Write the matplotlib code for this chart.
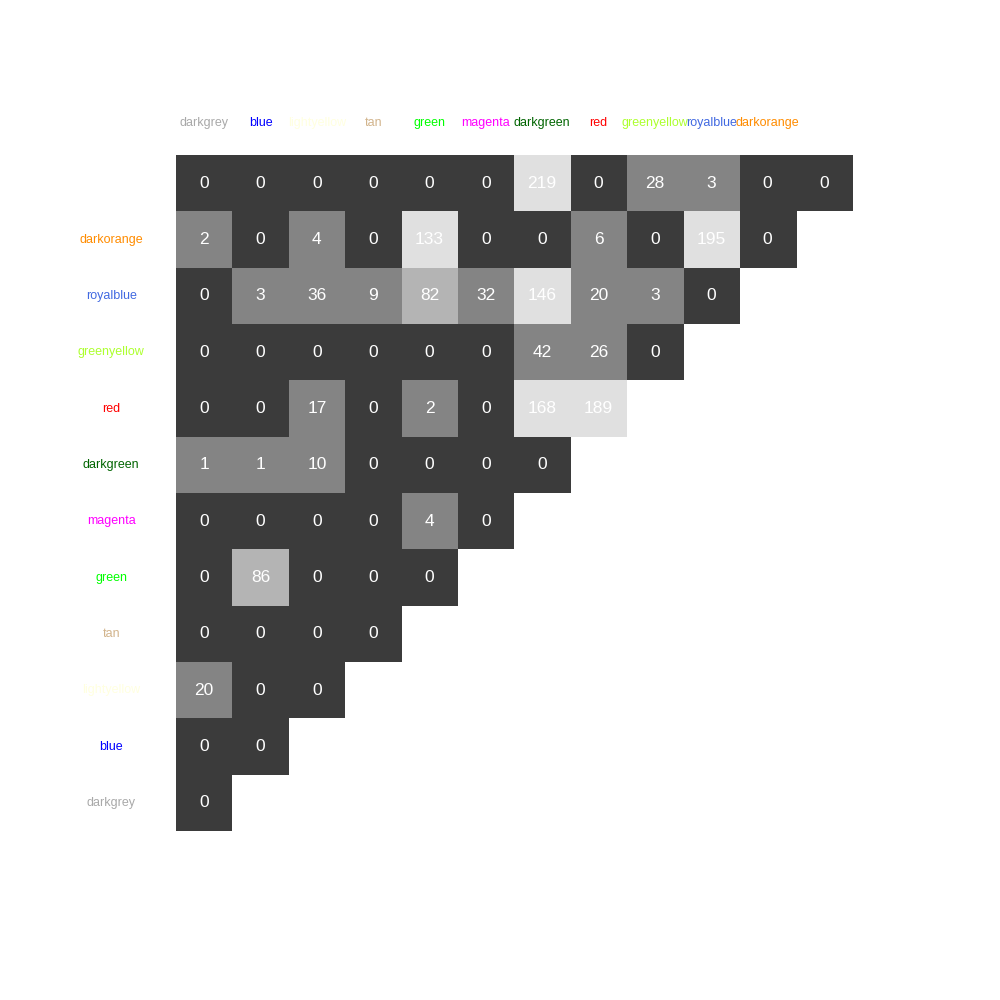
import numpy as np
import matplotlib
matplotlib.use("Agg")
from matplotlib import pyplot as plt
from matplotlib.colors import ListedColormap, BoundaryNorm

plt.rcParams['font.family'] = ['Liberation Sans', 'DejaVu Sans']

# module names (columns left->right, rows bottom->top)
col_labels = ['darkgrey', 'blue', 'lightyellow', 'tan', 'green', 'magenta',
              'darkgreen', 'red', 'greenyellow', 'royalblue', 'darkorange']
row_labels = ['', 'darkorange', 'royalblue', 'greenyellow', 'red', 'darkgreen',
              'magenta', 'green', 'tan', 'lightyellow', 'blue', 'darkgrey']
label_colors = {'darkgrey': '#a9a9a9', 'blue': '#0000ff', 'lightyellow': '#ffffe0',
                'tan': '#d2b48c', 'green': '#00ff00', 'magenta': '#ff00ff',
                'darkgreen': '#006400', 'red': '#ff0000', 'greenyellow': '#adff2f',
                'royalblue': '#4169e1', 'darkorange': '#ff8c00'}

# overlap counts, one row per line from the top
counts = [
    [0, 0, 0, 0, 0, 0, 219, 0, 28, 3, 0, 0],
    [2, 0, 4, 0, 133, 0, 0, 6, 0, 195, 0],
    [0, 3, 36, 9, 82, 32, 146, 20, 3, 0],
    [0, 0, 0, 0, 0, 0, 42, 26, 0],
    [0, 0, 17, 0, 2, 0, 168, 189],
    [1, 1, 10, 0, 0, 0, 0],
    [0, 0, 0, 0, 4, 0],
    [0, 86, 0, 0, 0],
    [0, 0, 0, 0],
    [20, 0, 0],
    [0, 0],
    [0],
]

n = len(counts)
mat = np.full((n, n), np.nan)
for i, row in enumerate(counts):
    mat[i, :len(row)] = row

cmap = ListedColormap(['#3b3b3b', '#848484', '#b4b4b4', '#e0e0e0'])
cmap.set_bad('white')
norm = BoundaryNorm([-0.5, 0.5, 50, 100, 1000], cmap.N)

fig = plt.figure(figsize=(10, 10), dpi=100)
ax = fig.add_axes([0.176, 1 - 0.831, 0.676, 0.676])
ax.imshow(np.ma.masked_invalid(mat), cmap=cmap, norm=norm, aspect='auto',
          interpolation='nearest')
ax.set_xlim(-0.5, n - 0.5)
ax.set_ylim(n - 0.5, -0.5)
ax.axis('off')

for i, row in enumerate(counts):
    for j, v in enumerate(row):
        ax.text(j, i, str(v), ha='center', va='center', color='white', fontsize=12.5)

for j, name in enumerate(col_labels):
    ax.text(j, -1.06, name, ha='center', va='center', fontsize=9,
            color=label_colors[name])
for i, name in enumerate(row_labels):
    if name:
        ax.text(-1.65, i, name, ha='center', va='center', fontsize=9,
                color=label_colors[name])

fig.savefig('out.png', dpi=100, facecolor='white')
